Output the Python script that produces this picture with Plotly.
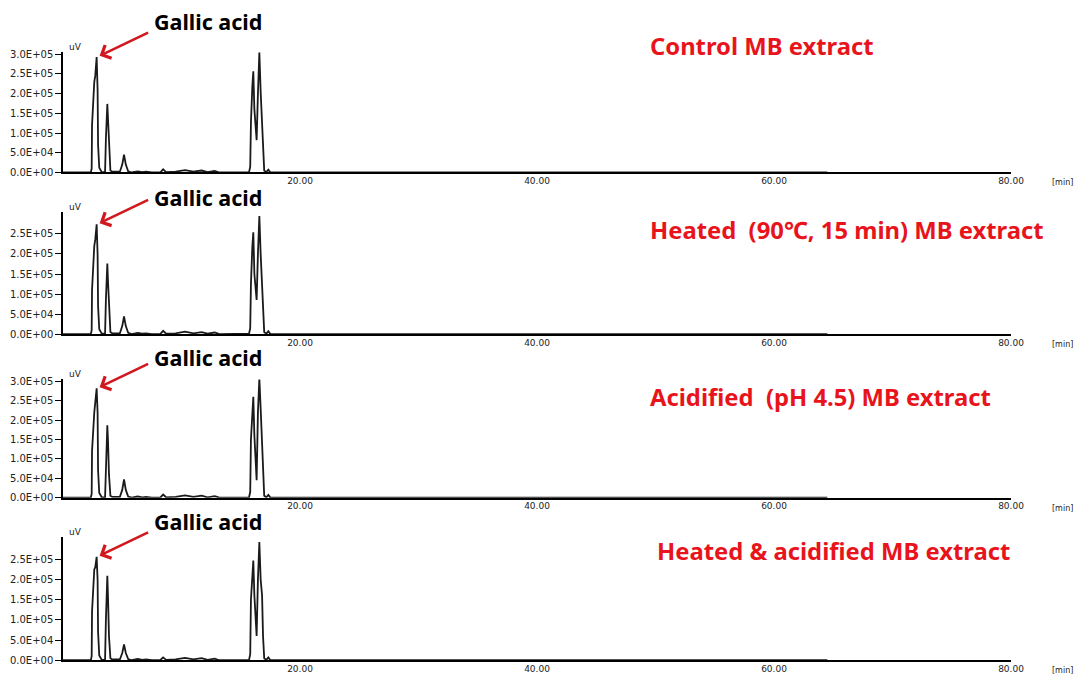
import plotly.graph_objects as go

# Retention times (min) of the chromatogram vertices, shared by all four runs
rt_min = [0, 2.35, 2.42, 2.45, 2.64, 2.72, 2.84, 2.92, 2.96, 3.06, 3.27,
          3.55, 3.62, 3.74, 3.8, 3.88, 4.0, 4.15,
          4.8, 5.0, 5.15, 5.3, 5.5,
          5.8, 6.3, 6.7, 7.0, 7.5, 8.2, 8.45, 8.7, 9.5, 10.3, 11.0, 11.7, 12.2, 12.8, 13.2,
          15.7, 15.8, 15.86, 15.98, 16.06, 16.15, 16.34, 16.45, 16.57, 16.68, 16.8, 16.88, 16.98,
          17.15, 17.33, 17.5, 64.5]

# Detector signal (uV) at each retention time
control = [0, 500, 1.0e4, 1.2e5, 2.3e5, 2.45e5, 2.93e5, 2.1e5, 7.0e4, 1.2e4, 1000,
           1000, 8.5e4, 1.74e5, 1.35e5, 6.0e4, 5000, 2000,
           2000, 2.0e4, 4.5e4, 2.0e4, 3000,
           0, 3000, 1000, 2000, 0, 0, 8000, 1000, 2000, 6000, 2000, 5000, 1000, 4000, 0,
           1000, 1.5e4, 1.27e5, 2.2e5, 2.57e5, 1.6e5, 8.2e4, 2.0e5, 3.05e5, 2.05e5, 1.3e5, 6.0e4, 5000,
           1000, 7000, 0, 0]

heated = [0, 500, 1.0e4, 1.1e5, 2.2e5, 2.35e5, 2.74e5, 2.0e5, 7.0e4, 1.2e4, 1000,
          1000, 8.5e4, 1.76e5, 1.3e5, 6.0e4, 5000, 2000,
          2000, 2.0e4, 4.4e4, 2.0e4, 3000,
          0, 3000, 1000, 2000, 0, 0, 8000, 1000, 2000, 6000, 2000, 5000, 1000, 4000, 0,
          1000, 1.5e4, 1.25e5, 2.2e5, 2.54e5, 1.5e5, 8.5e4, 2.0e5, 2.95e5, 2.0e5, 1.3e5, 6.0e4, 5000,
          1000, 7000, 0, 0]

acidified = [0, 500, 1.0e4, 1.2e5, 2.2e5, 2.4e5, 2.82e5, 2.2e5, 7.0e4, 1.2e4, 1000,
             1000, 9.0e4, 1.87e5, 1.45e5, 6.0e4, 5000, 2000,
             2000, 2.0e4, 4.7e4, 2.0e4, 3000,
             0, 3000, 1000, 2000, 0, 0, 8000, 1000, 2000, 6000, 2000, 5000, 1000, 4000, 0,
             1000, 1.5e4, 1.5e5, 2.2e5, 2.6e5, 1.6e5, 4.5e4, 2.2e5, 3.08e5, 2.3e5, 1.3e5, 6.0e4, 5000,
             1000, 7000, 0, 0]

heated_acidified = [0, 500, 1.0e4, 1.2e5, 2.25e5, 2.3e5, 2.56e5, 2.0e5, 7.0e4, 1.2e4, 1000,
                    1000, 1.0e5, 2.09e5, 1.55e5, 6.0e4, 5000, 2000,
                    2000, 1.8e4, 3.9e4, 1.8e4, 3000,
                    0, 3000, 1000, 2000, 0, 0, 7000, 1000, 2000, 6000, 2000, 5000, 1000, 4000, 0,
                    1000, 1.5e4, 1.5e5, 2.2e5, 2.47e5, 1.6e5, 6.0e4, 2.0e5, 2.93e5, 2.0e5, 1.6e5, 6.0e4, 5000,
                    1000, 7000, 0, 0]

runs = [control, heated, acidified, heated_acidified]
titles = ["Control MB extract",
          "Heated  (90\u2103, 15 min) MB extract",
          "Acidified  (pH 4.5) MB extract",
          "Heated & acidified MB extract"]
title_x_px = [648, 648, 648, 655]

# y ticks per panel (top label differs)
ytick_vals_full = [0, 5e4, 1e5, 1.5e5, 2e5, 2.5e5, 3e5]
ytick_text_full = ["0.0E+00", "5.0E+04", "1.0E+05", "1.5E+05", "2.0E+05", "2.5E+05", "3.0E+05"]
ytick_count = [7, 6, 7, 6]

xtick_vals = [20, 40, 60, 80]
xtick_text = ["20.00", "40.00", "60.00", "80.00"]

# Figure geometry (pixels)
W, H = 1081, 683
ML, MR = 63, 70
panel_px = [(49, 171), (211, 335), (381, 501), (541, 666)]  # (top, bottom)

fig = go.Figure()
label_font = dict(family="DejaVu Sans", size=10, color="#222222")

annotations = []
for i, vals in enumerate(runs):
    n = i + 1
    xa = "x" if n == 1 else f"x{n}"
    ya = "y" if n == 1 else f"y{n}"
    top, bot = panel_px[i]
    dom = [1 - bot / H, 1 - top / H]

    fig.add_trace(go.Scatter(x=rt_min, y=vals, mode="lines",
                             line=dict(color="#1a1a1a", width=1.8),
                             xaxis=xa, yaxis=ya, showlegend=False,
                             hoverinfo="skip"))

    k = ytick_count[i]
    fig.layout[f"xaxis{'' if n == 1 else n}"] = dict(
        domain=[0, 1], range=[0, 80], anchor=ya,
        showgrid=False, zeroline=False,
        showline=True, linecolor="black", linewidth=2,
        tickmode="array", tickvals=xtick_vals, ticktext=xtick_text,
        ticks="", tickfont=dict(family="DejaVu Sans", size=9, color="#222"),
        ticklabelstandoff=-1,
    )
    fig.layout[f"yaxis{'' if n == 1 else n}"] = dict(
        domain=dom, range=[0, 3.05e5], anchor=xa,
        showgrid=False, zeroline=False,
        showline=True, linecolor="black", linewidth=1.5,
        tickmode="array", tickvals=ytick_vals_full[:k], ticktext=ytick_text_full[:k],
        ticks="outside", ticklen=6, tickcolor="black", tickwidth=1,
        tickfont=label_font, ticklabelstandoff=0,
    )

    # "uV" unit label at the top of the y axis
    annotations.append(dict(xref="paper", yref="paper", x=0.004, y=dom[1],
                            xanchor="left", yanchor="bottom", text="uV",
                            showarrow=False, font=dict(family="DejaVu Sans", size=9, color="#222"),
                            yshift=-2))
    # "[min]" unit label at the right end of the x axis
    annotations.append(dict(xref="paper", yref="paper", x=1 + 51 / (W - ML - MR), y=dom[0],
                            xanchor="center", yanchor="top", text="[min]",
                            showarrow=False, font=dict(family="DejaVu Sans", size=8, color="#222"),
                            yshift=-4))

    # arrow to the gallic acid peak (highest point among the first vertices)
    g_idx = max(range(11), key=lambda j: vals[j])
    annotations.append(dict(xref=xa, yref=ya, x=rt_min[g_idx] + 0.25, y=vals[g_idx] + 3000,
                            text="", showarrow=True, arrowhead=4, arrowsize=1.1,
                            arrowwidth=2.6, arrowcolor="#d0181e",
                            ax=50, ay=-24, standoff=0))
    annotations.append(dict(xref="paper", yref="paper",
                            x=(208 - ML) / (W - ML - MR), y=1 - ([18, 196, 359, 525][i]) / H,
                            xanchor="center", yanchor="middle", text="<b>Gallic acid</b>",
                            showarrow=False,
                            font=dict(family="Noto Sans", size=21.5, color="black")))
    # panel title
    annotations.append(dict(xref="paper", yref="paper",
                            x=(title_x_px[i] - ML) / (W - ML - MR),
                            y=1 - ([43, 229, 399, 555][i]) / H,
                            xanchor="left", yanchor="middle", text=f"<b>{titles[i]}</b>",
                            showarrow=False,
                            font=dict(family="Noto Sans", size=23.8, color="#e8141c")))

fig.update_layout(
    width=W, height=H,
    margin=dict(l=ML, r=MR, t=0, b=0),
    paper_bgcolor="white", plot_bgcolor="white",
    annotations=annotations,
)

fig.write_html("out.html")
